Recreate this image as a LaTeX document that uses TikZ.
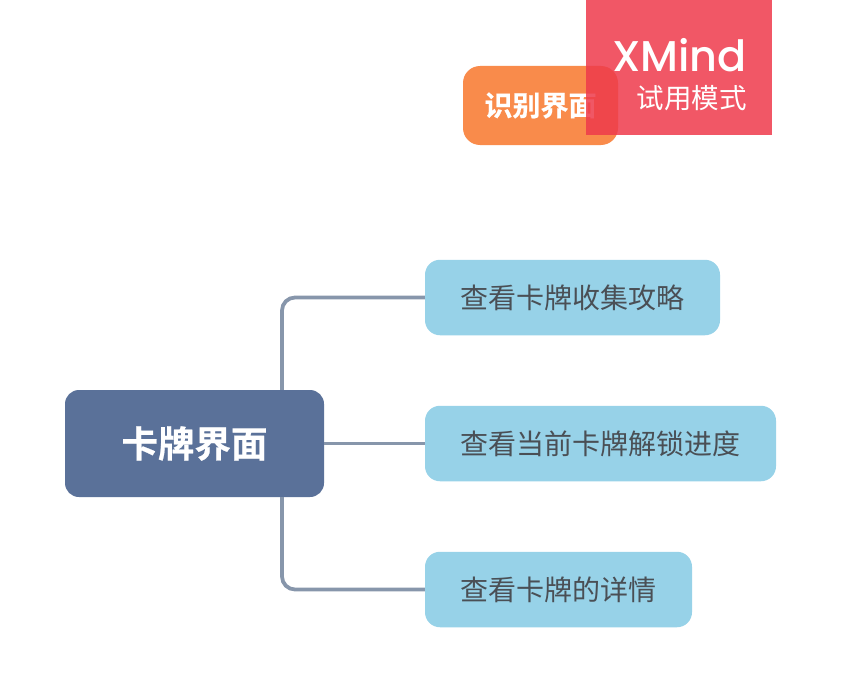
\documentclass[tikz,border=0pt]{standalone}
\usepackage{fontspec}
\newfontfamily\cjk{Noto Sans CJK SC}
\newfontfamily\cjkb[FakeBold=0.5]{Noto Sans CJK SC Bold}
\newfontfamily\latinf{Poppins Medium}
\definecolor{rootc}{HTML}{5A7199}
\definecolor{subc}{HTML}{97D2E8}
\definecolor{linec}{HTML}{8796AB}
\definecolor{orangec}{HTML}{F98B4B}
\definecolor{redc}{HTML}{EE3A4B}
\definecolor{textc}{HTML}{4A4F55}
\tikzset{
  x=1pt,y=-1pt,
  conn/.style={draw=linec,line width=3.8pt},
  rootbox/.style={fill=rootc,rounded corners=14pt,inner sep=0pt,text=white,font=\cjkb\fontsize{36.5}{36.5}\selectfont},
  subbox/.style={fill=subc,rounded corners=15pt,inner sep=0pt,text=textc,minimum height=75.5pt,font=\cjk\fontsize{28}{28}\selectfont},
  orangebox/.style={fill=orangec,rounded corners=17pt,inner sep=0pt,text=white,minimum width=155pt,minimum height=79pt,font=\cjkb\fontsize{28}{28}\selectfont},
  trial/.style={fill=redc,fill opacity=0.85,inner sep=0pt,minimum width=186pt,minimum height=135pt},
  wm/.style={inner sep=0pt,text=white}
}
\begin{document}
\begin{tikzpicture}
\useasboundingbox (0,0) rectangle (841,693);
\node[rootbox,minimum width=259pt,minimum height=107pt] (root) at (194.5,443.5) {\raisebox{-1pt}{卡牌界面}};
\node[subbox,minimum width=295pt] (a) at (572.5,297.5) {\raisebox{-1pt}{查看卡牌收集攻略}};
\node[subbox,minimum width=351pt] (b) at (600.5,443.5) {\raisebox{-1pt}{查看当前卡牌解锁进度}};
\node[subbox,minimum width=267pt] (c) at (558.5,589.5) {\raisebox{-1pt}{查看卡牌的详情}};
\coordinate (up) at (282,297.5);
\coordinate (down) at (282,589.5);
\draw[conn,rounded corners=13pt] (root.north -| up) -- (up) -- (a.west);
\draw[conn] (root.east) -- (b.west);
\draw[conn,rounded corners=13pt] (root.south -| down) -- (down) -- (c.west);
\node[orangebox] (o) at (540.5,105.5) {\raisebox{-1pt}{识别界面}};
\node[trial] (t) at (679,67.5) {};
\node[wm,font=\latinf\fontsize{43}{43}\selectfont,anchor=east] (x) at (747,55) {XMind};
\node[wm,font=\cjk\fontsize{27.5}{27.5}\selectfont,anchor=east] (y) at (747,98) {试用模式};
\end{tikzpicture}
\end{document}
